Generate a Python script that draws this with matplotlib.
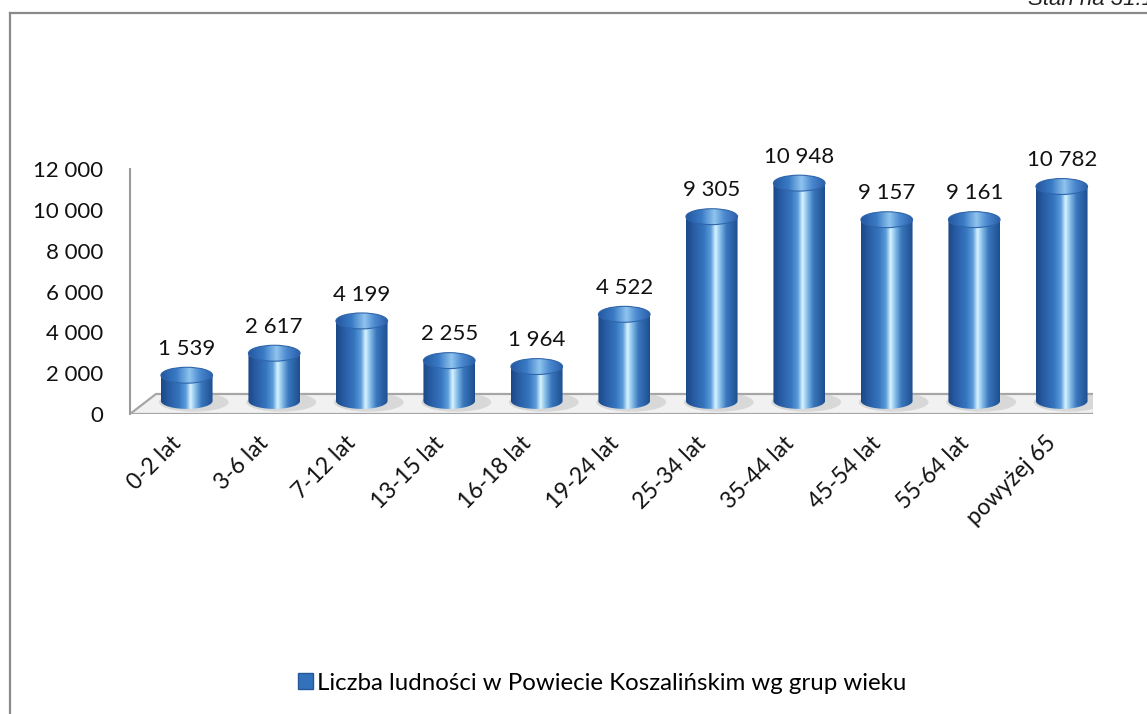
import matplotlib.pyplot as plt
import numpy as np
from matplotlib.colors import LinearSegmentedColormap
from matplotlib.patches import Ellipse, Polygon, Patch
from matplotlib.lines import Line2D
from matplotlib.transforms import ScaledTranslation

categories = ["0-2 lat", "3-6 lat", "7-12 lat", "13-15 lat", "16-18 lat", "19-24 lat",
              "25-34 lat", "35-44 lat", "45-54 lat", "55-64 lat", "powyżej 65"]
values = [1539, 2617, 4199, 2255, 1964, 4522, 9305, 10948, 9157, 9161, 10782]
y_ticks = [0, 2000, 4000, 6000, 8000, 10000, 12000]
legend_label = "Liczba ludności w Powiecie Koszalińskim wg grup wieku"
note = "Stan na 31.12.2010 r."

plt.rcParams["font.family"] = ["Lato", "DejaVu Sans"]


def fmt(v):
    return f"{v:,}".replace(",", " ")


body_cmap = LinearSegmentedColormap.from_list("body", [
    (0.0, "#1b4887"), (0.15, "#285ca4"), (0.35, "#3676bf"), (0.48, "#5d9ddb"),
    (0.57, "#d9f4ff"), (0.65, "#8cc3ec"), (0.78, "#3a77bd"), (1.0, "#1d4f90")])
cap_cmap = LinearSegmentedColormap.from_list("cap", [
    (0.0, "#2456a0"), (0.3, "#3a7bc6"), (0.55, "#8fc4ee"), (0.75, "#4a88cf"), (1.0, "#2a5fa8")])
grad = np.linspace(0, 1, 256)[None, :]


def cylinder(ax, x, bottom, top, w, h):
    t = np.linspace(np.pi, 2 * np.pi, 80)
    xs = np.concatenate([[x - w / 2], x + w / 2 * np.cos(t), [x + w / 2]])
    ys = np.concatenate([[top], bottom + h / 2 * np.sin(t), [top]])
    body = Polygon(np.column_stack([xs, ys]), closed=True, facecolor="none",
                   edgecolor="none", zorder=3)
    ax.add_patch(body)
    im = ax.imshow(grad, extent=(x - w / 2, x + w / 2, bottom - h / 2, top),
                   aspect="auto", cmap=body_cmap, zorder=3)
    im.set_clip_path(body)
    cap = Ellipse((x, top), w, h, facecolor="none", edgecolor="#2f65aa", lw=0.8, zorder=4)
    ax.add_patch(cap)
    im2 = ax.imshow(grad, extent=(x - w / 2, x + w / 2, top - h / 2, top + h / 2),
                    aspect="auto", cmap=cap_cmap, zorder=3.5)
    im2.set_clip_path(cap)


fig = plt.figure(figsize=(11.47, 7.14), dpi=100)
ax = fig.add_axes([130 / 1147, 300 / 714, 962.5 / 1147, 245 / 714])

# depth of the 3D floor in data units
ddx, ddy = 0.297, 980
bar_w, cap_h = 0.59, 780
base_level, top_off = 640, 360

floor = Polygon([(-0.5, 0), (10.5, 0), (10.5 + ddx, ddy), (-0.5 + ddx, ddy)],
                closed=True, facecolor="#f1f1f1", edgecolor="#a6a6a6", lw=1.6, zorder=1)
ax.add_patch(floor)

xpos = np.arange(len(categories))
for i, v in enumerate(values):
    cx = xpos[i] + ddx / 2
    ax.add_patch(Ellipse((cx + 0.08, base_level - 60), bar_w * 1.35, cap_h * 1.2,
                         facecolor="#c4c4c4", edgecolor="none", alpha=0.55, zorder=2))
    cylinder(ax, cx, base_level, v + top_off, bar_w, cap_h)
    ax.annotate(fmt(v), (cx, v + top_off), xytext=(0, 19), textcoords="offset points",
                ha="center", va="center", fontsize=16, color="#111111", zorder=5)

off = ScaledTranslation(4 / 100, -26 / 100, fig.dpi_scale_trans)
for i, lab in enumerate(categories):
    ax.text(xpos[i], 0, lab, transform=ax.transData + off, rotation=45, ha="right",
            va="center", rotation_mode="anchor", fontsize=16.5, color="#111111")

ax.set_xlim(-0.5, 10.5)
ax.set_ylim(0, 12000)
ax.set_xticks([])
ax.set_yticks(y_ticks)
ax.set_yticklabels([fmt(t) for t in y_ticks], fontsize=16, color="#111111")
ax.tick_params(axis="y", length=0, pad=19)
for s in ["top", "right", "bottom"]:
    ax.spines[s].set_visible(False)
ax.spines["left"].set_color("#9a9a9a")
ax.spines["left"].set_linewidth(1.5)
ax.patch.set_alpha(0)

fig.legend(handles=[Patch(facecolor="#3272bb", edgecolor="#24579a")], labels=[legend_label],
           loc="center", bbox_to_anchor=(0.5253, 1 - 683 / 714), frameon=False,
           fontsize=17.3, handlelength=0.6, handleheight=0.6, handletextpad=0.2)

# outer frame of the cropped page and cut-off note
fig.add_artist(Line2D([10 / 1147, 1], [1 - 12.5 / 714, 1 - 12.5 / 714],
                      transform=fig.transFigure, color="#8a8a8a", lw=1.6))
fig.add_artist(Line2D([10 / 1147, 10 / 1147], [0, 1 - 12.5 / 714],
                      transform=fig.transFigure, color="#8a8a8a", lw=1.6))
fig.text(1028 / 1147, 1 - 5 / 714, note, style="italic", fontsize=16,
         family="Liberation Sans", va="baseline", ha="left", color="#222222")

fig.savefig("out.png", dpi=100)
